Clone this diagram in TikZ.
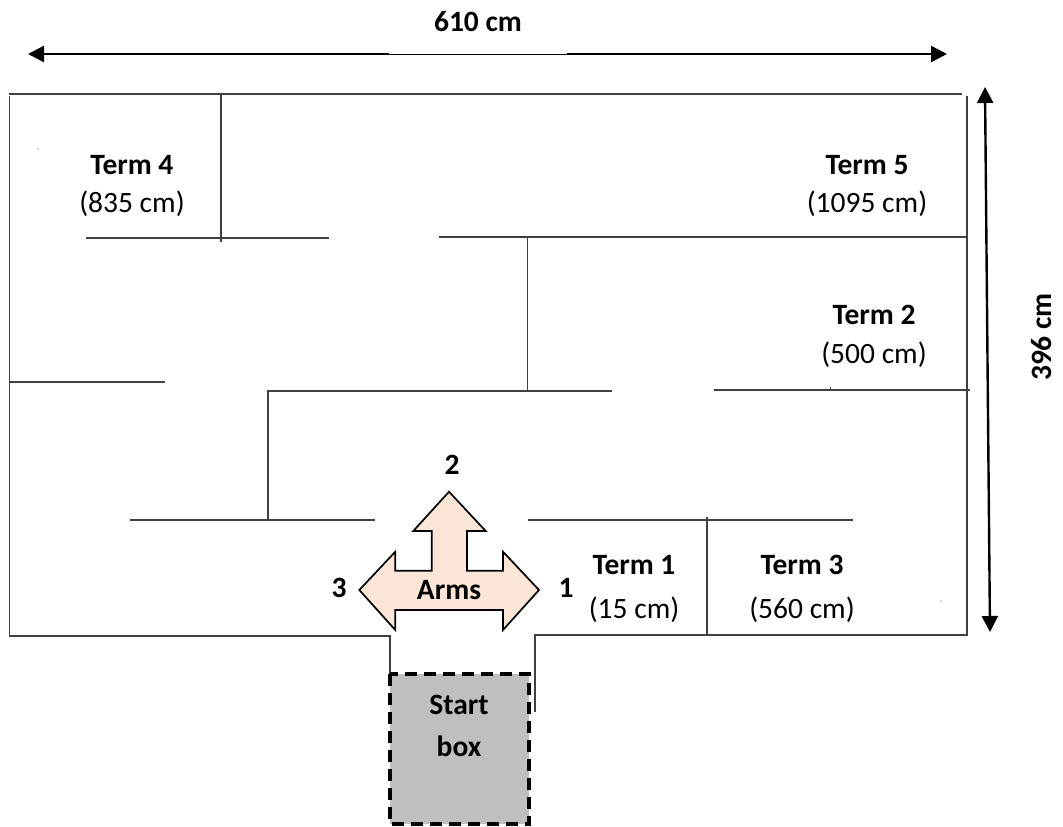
\documentclass[tikz,border=0pt]{standalone}
\usepackage{fontspec}
\setmainfont{Carlito}
\usetikzlibrary{arrows.meta}
\definecolor{wallc}{HTML}{404040}
\definecolor{armfill}{HTML}{FBE5D6}
\definecolor{boxfill}{HTML}{BFBFBF}
\tikzset{
  wall/.style={draw=wallc,line width=1.3pt},
  dimarrow/.style={draw=black,line width=2.4pt,{Triangle[length=16pt,width=16pt]}-{Triangle[length=16pt,width=16pt]}},
  lbl/.style={font=\fontsize{29.5}{33}\selectfont\bfseries,inner sep=0pt},
  sub/.style={font=\fontsize{29.5}{33}\selectfont,inner sep=0pt}
}
\begin{document}
\begin{tikzpicture}[x=1pt,y=-1pt]
\useasboundingbox (0,0) rectangle (1063,827);
% dimension arrows
\draw[dimarrow] (28,54) -- (947,54);
\draw[white,line width=2.4pt] (389,54) -- (567,54);
\draw[black,line width=0.6pt] (389,54) -- (567,54);
\draw[dimarrow] (985,87) -- (990,632);
% walls
\draw[wall] (9,94) -- (962,94);
\draw[wall] (9.5,96) -- (9.5,636) -- (390,636) -- (390,674);
\draw[wall] (535,712) -- (535,635) -- (967,635) -- (967,96);
\draw[wall] (221,94) -- (221,242);
\draw[wall] (86,238) -- (329,238);
\draw[wall] (439,237) -- (967,237);
\draw[wall] (527.5,237) -- (527.5,391);
\draw[wall] (268,520) -- (268,391) -- (612,391);
\draw[wall] (714,390) -- (970,390);
\draw[wall] (9,382) -- (165,382);
\draw[wall] (130,520) -- (375,520);
\draw[wall] (528,520) -- (853,520);
\draw[wall] (707,517) -- (707,635);
\draw[wall,line width=0.8pt] (830,387) -- (830,390);
\fill[black!70] (38,149) circle (0.7);
\fill[black!70] (941,601) circle (0.7);
% start box
\draw[fill=boxfill,draw=black,line width=3.2pt,dash pattern=on 12pt off 7pt] (390,674) rectangle (529,824);
\node[lbl] (sb1) at (459,705) {Start};
\node[lbl] (sb2) at (459,746) {box};
% arms
\draw[fill=armfill,draw=black,line width=1.7pt,line join=miter]
 (449,491.7) -- (485.7,531) -- (467,531) -- (467,570.7) -- (503,570.7) -- (503,551.7)
 -- (539,590) -- (503,630) -- (503,610) -- (395.3,610) -- (395.3,630) -- (359.3,590)
 -- (395.3,551.7) -- (395.3,570.7) -- (431.7,570.7) -- (431.7,531) -- (413.3,531) -- cycle;
\node[lbl] (arms) at (449,590) {Arms};
\node[lbl] (n2) at (452,465) {2};
\node[lbl] (n3) at (339,588) {3};
\node[lbl] (n1) at (566,588) {1};
% labels
\node[lbl] (t4) at (132,165) {Term 4};
\node[sub] (t4s) at (132,204) {(835 cm)};
\node[lbl] (t5) at (867,165) {Term 5};
\node[sub] (t5s) at (867,204) {(1095 cm)};
\node[lbl] (t2) at (874,315) {Term 2};
\node[sub] (t2s) at (874,355) {(500 cm)};
\node[lbl] (t1) at (634,565) {Term 1};
\node[sub] (t1s) at (634,610) {(15 cm)};
\node[lbl] (t3) at (802,565) {Term 3};
\node[sub] (t3s) at (802,610) {(560 cm)};
\node[lbl] (w) at (478,22) {610 cm};
\node[lbl,rotate=90] (h) at (1042,337) {396 cm};
\end{tikzpicture}
\end{document}
